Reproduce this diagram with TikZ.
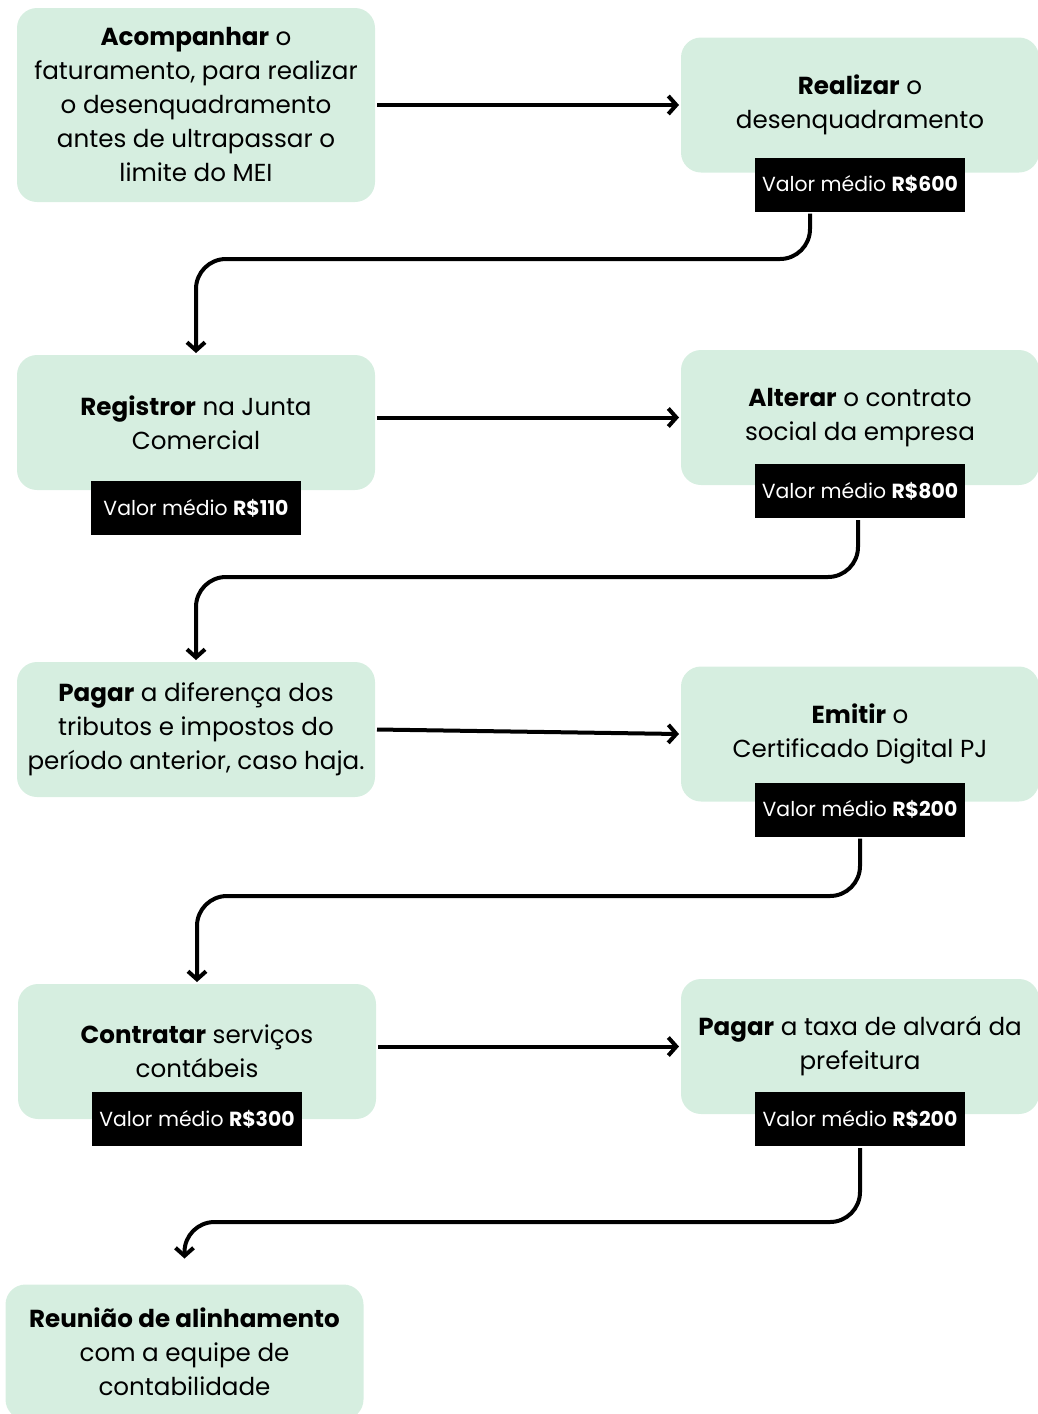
\documentclass[tikz,border=0pt]{standalone}
\usepackage{fontspec}
\setmainfont{Poppins}
\usepackage{xcolor}
\usetikzlibrary{arrows.meta,positioning}

\definecolor{boxgreen}{RGB}{214,238,224}

\begin{document}
\begin{tikzpicture}[x=1pt, y=-1pt, line width=4pt,
    main/.style = {fill=boxgreen, rounded corners=20pt, minimum width=358pt, minimum height=135pt,
                   align=center, inner sep=0pt, font=\fontsize{24.6}{34}\selectfont},
    tag/.style = {fill=black, text=white, minimum width=210pt, minimum height=54pt,
                  inner sep=0pt, font=\fontsize{20.4}{24}\selectfont},
    flow/.style = {-{Straight Barb[length=8pt,width=18pt]}, rounded corners=30pt}]
          \clip (0,0) rectangle (1038,1414);
          \useasboundingbox (0,0) rectangle (1038,1414);

          \node[main, minimum height=194pt] (n_1) at (196,105) {\textbf{Acompanhar} o\\faturamento, para realizar\\o desenquadramento\\antes de ultrapassar o\\limite do MEI};
          \node[main] (n_2) at (860,105) {\textbf{Realizar} o\\desenquadramento};
          \node[tag] (v_2) at (860,184.5) {Valor médio \textbf{R\$600}};

          \node[main] (n_3) at (196,422.5) {\textbf{Registror} na Junta\\Comercial};
          \node[tag] (v_3) at (196,508) {Valor médio \textbf{R\$110}};
          \node[main] (n_4) at (860,417.5) {\textbf{Alterar} o contrato\\social da empresa};
          \node[tag] (v_4) at (860,491) {Valor médio \textbf{R\$800}};

          \node[main] (n_5) at (196,729.5) {\textbf{Pagar} a diferença dos\\tributos e impostos do\\período anterior, caso haja.};
          \node[main] (n_6) at (860,734) {\textbf{Emitir} o\\Certificado Digital PJ};
          \node[tag] (v_6) at (860,809.5) {Valor médio \textbf{R\$200}};

          \node[main] (n_7) at (197,1051.5) {\textbf{Contratar} serviços\\contábeis};
          \node[tag] (v_7) at (197,1119) {Valor médio \textbf{R\$300}};
          \node[main] (n_8) at (860,1046.5) {\textbf{Pagar} a taxa de alvará da\\prefeitura};
          \node[tag] (v_8) at (860,1119) {Valor médio \textbf{R\$200}};

          \node[main] (n_9) at (184.5,1352) {\textbf{Reunião de alinhamento}\\com a equipe de\\contabilidade};

          \draw[flow] (n_1.east) -- (n_2.west);
          \draw[flow] (n_3.east |- n_4) -- (n_4.west);
          \draw[flow] (n_5.east) -- (n_6.west);
          \draw[flow] (n_7.east |- n_8) -- (n_8.west);

          \draw[flow] ([xshift=-50pt]v_2.south) |- (n_3.north |- 0,259) -- (n_3.north);
          \draw[flow] ([xshift=-2pt]v_4.south) |- (n_5.north |- 0,577) -- (n_5.north);
          \draw[flow] (v_6.south) |- (n_7.north |- 0,896) -- (n_7.north);
          \draw[flow] (v_8.south) |- (n_9.north |- 0,1222) -- ([yshift=24pt]n_9.north);
        \end{tikzpicture}
\end{document}
